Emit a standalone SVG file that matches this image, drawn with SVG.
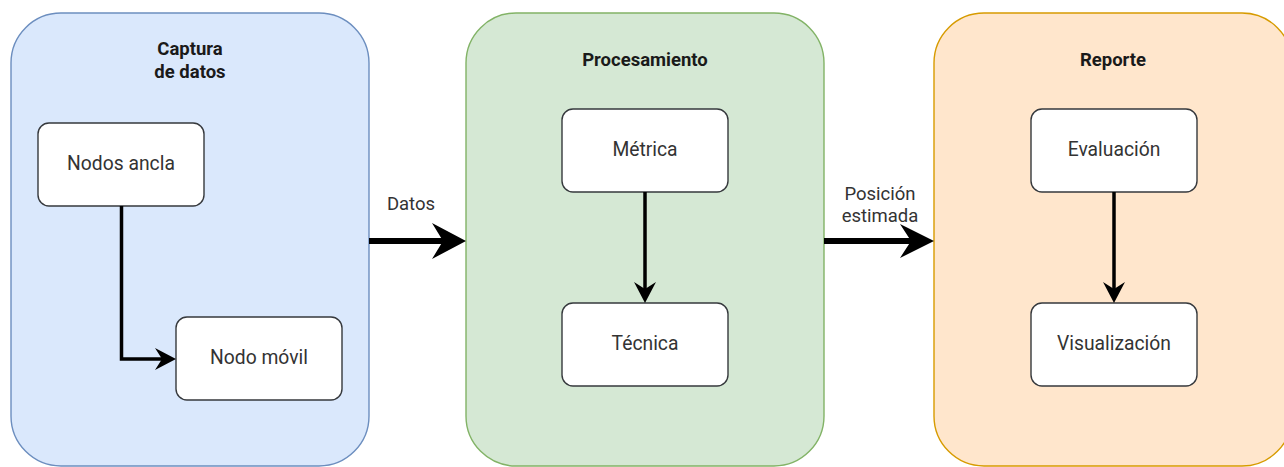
<svg xmlns="http://www.w3.org/2000/svg" width="1284" height="467" viewBox="0 0 1284 467">
  <style>
    .lane { stroke-width: 1.4; }
    .blue { fill: #dae8fc; stroke: #6c8ebf; }
    .green { fill: #d5e8d4; stroke: #82b366; }
    .orange { fill: #ffe6cc; stroke: #d79b00; }
    .box { fill: #ffffff; stroke: #36393d; stroke-width: 1.4; }
    .title { font-family: Roboto, "Liberation Sans", sans-serif; font-size: 18.5px; font-weight: bold; fill: #1a1a1a; text-anchor: middle; }
    .label { font-family: Roboto, "Liberation Sans", sans-serif; font-size: 19.3px; fill: #333333; text-anchor: middle; }
    .edge-label { font-family: Roboto, "Liberation Sans", sans-serif; font-size: 18.5px; fill: #333333; text-anchor: middle; }
    .thin { fill: none; stroke: #000000; stroke-width: 3.5; }
    .thick { fill: none; stroke: #000000; stroke-width: 6; }
    .head { fill: #000000; }
  </style>

  <!-- Stage containers -->
  <g id="captura">
    <rect class="lane blue" x="11" y="13" width="358" height="453" rx="50" ry="50"/>
    <text class="title" x="190" y="55">Captura</text>
    <text class="title" x="190" y="78">de datos</text>
  </g>
  <g id="procesamiento">
    <rect class="lane green" x="466" y="13" width="358" height="453" rx="50" ry="50"/>
    <text class="title" x="645" y="66">Procesamiento</text>
  </g>
  <g id="reporte">
    <rect class="lane orange" x="934" y="13" width="358" height="453" rx="50" ry="50"/>
    <text class="title" x="1113" y="66">Reporte</text>
  </g>

  <!-- Inner steps -->
  <g id="nodos-ancla">
    <rect class="box" x="38" y="123" width="166" height="83" rx="11" ry="11"/>
    <text class="label" x="121" y="170">Nodos ancla</text>
  </g>
  <g id="nodo-movil">
    <rect class="box" x="176" y="317" width="166" height="83" rx="11" ry="11"/>
    <text class="label" x="259" y="364">Nodo móvil</text>
  </g>
  <g id="metrica">
    <rect class="box" x="562" y="109" width="166" height="83" rx="11" ry="11"/>
    <text class="label" x="645" y="156">Métrica</text>
  </g>
  <g id="tecnica">
    <rect class="box" x="562" y="303" width="166" height="83" rx="11" ry="11"/>
    <text class="label" x="645" y="350">Técnica</text>
  </g>
  <g id="evaluacion">
    <rect class="box" x="1031" y="109" width="166" height="83" rx="11" ry="11"/>
    <text class="label" x="1114" y="156">Evaluación</text>
  </g>
  <g id="visualizacion">
    <rect class="box" x="1031" y="303" width="166" height="83" rx="11" ry="11"/>
    <text class="label" x="1114" y="350">Visualización</text>
  </g>

  <!-- Connectors -->
  <g id="connectors">
    <!-- Nodos ancla -> Nodo móvil -->
    <polyline class="thin" points="121.5,206 121.5,359 162,359"/>
    <path class="head" d="M176,359 L155,348 L162,359 L155,370 Z"/>

    <!-- Métrica -> Técnica -->
    <line class="thin" x1="645" y1="192" x2="645" y2="289"/>
    <path class="head" d="M645,303 L634,282 L645,289 L656,282 Z"/>

    <!-- Evaluación -> Visualización -->
    <line class="thin" x1="1114" y1="192" x2="1114" y2="289"/>
    <path class="head" d="M1114,303 L1103,282 L1114,289 L1125,282 Z"/>

    <!-- Captura -> Procesamiento -->
    <line class="thick" x1="369" y1="241" x2="444" y2="241"/>
    <path class="head" d="M466,241 L432,223 L443,241 L432,259 Z"/>
    <text class="edge-label" x="411" y="210">Datos</text>

    <!-- Procesamiento -> Reporte -->
    <line class="thick" x1="824" y1="241" x2="912" y2="241"/>
    <path class="head" d="M934,241 L900,224 L911,241 L900,258 Z"/>
    <text class="edge-label" x="880" y="200">Posición</text>
    <text class="edge-label" x="880" y="222">estimada</text>
  </g>
</svg>
